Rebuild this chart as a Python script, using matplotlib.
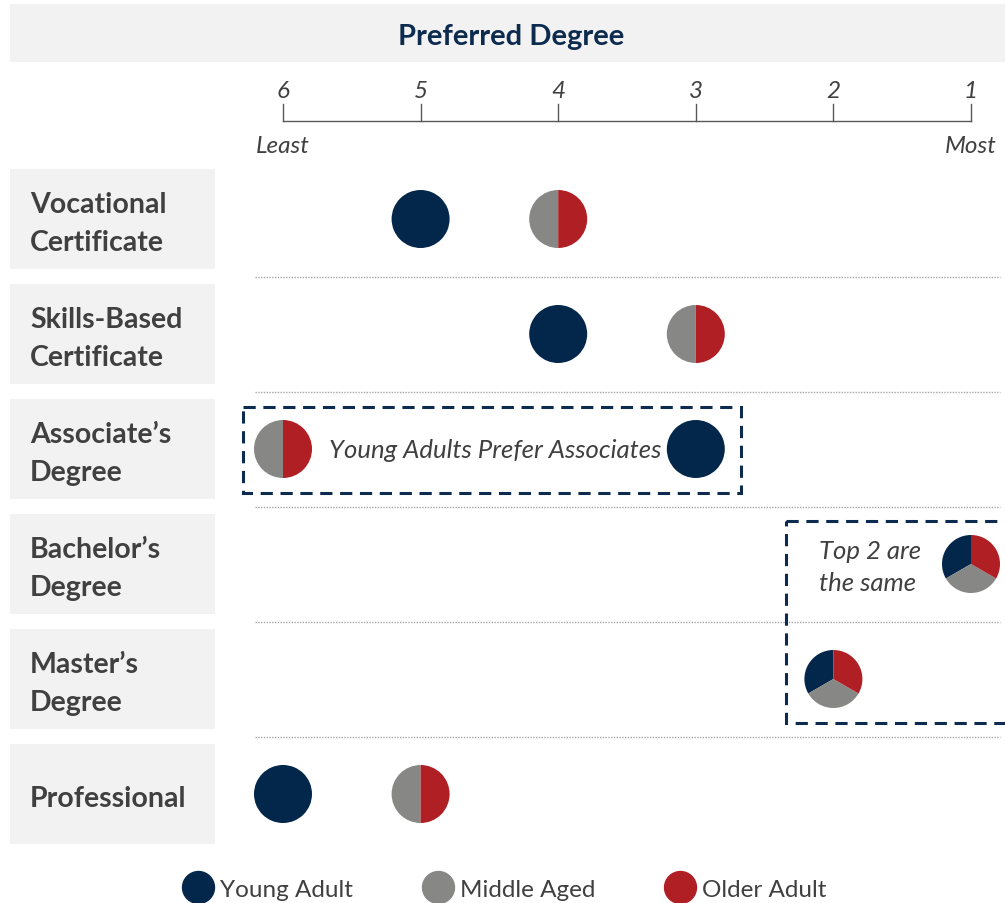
import numpy as np
import matplotlib
matplotlib.use("Agg")
import matplotlib.pyplot as plt
from matplotlib.patches import Wedge, Rectangle
from matplotlib.lines import Line2D
from matplotlib.transforms import ScaledTranslation

# data
categories = ["Vocational\nCertificate", "Skills-Based\nCertificate", "Associate\u2019s\nDegree",
              "Bachelor\u2019s\nDegree", "Master\u2019s\nDegree", "Professional"]
young_rank = [5, 4, 3, 1, 2, 6]
middle_rank = [4, 3, 6, 1, 2, 5]
older_rank = [4, 3, 6, 1, 2, 5]
rank_ticks = [6, 5, 4, 3, 2, 1]
groups = ["Young Adult", "Middle Aged", "Older Adult"]

colors = ["#03274b", "#878886", "#b01f24"]
navy = "#0c2b4e"
text_gray = "#404040"

plt.rcParams['font.family'] = ['Lato', 'DejaVu Sans']

W, H = 1005, 904
fig = plt.figure(figsize=(W / 100, H / 100), dpi=100)

# layout in pixels: rank 6 -> x 283, rank 1 -> x 971, row 0 -> y 220, row step 115
x6, x1 = 283, 971
step_x = (x1 - x6) / 5
y0, step_y = 220, 115
ax = fig.add_axes([0, 0, 1, 1])
ax.set_xlim(6 + x6 / step_x, 6 - (W - x6) / step_x)
ax.set_ylim((H - y0) / step_y, -y0 / step_y)
ax.axis("off")


def fx(px):
    return px / W


def fy(py):
    return 1 - py / H


tf = fig.transFigure

# title band
fig.patches.append(Rectangle((fx(10), fy(63)), fx(995), 58 / H, transform=tf,
                             facecolor="#f2f2f2", edgecolor="none", zorder=0))
fig.text(fx(511), fy(37), "Preferred Degree", ha="center", va="center",
         fontsize=21, fontweight="bold", color=navy)

# rank axis
ax.plot([rank_ticks[0], rank_ticks[-1]], [-0.85, -0.85], color="#595959", lw=1, clip_on=False)
for r in rank_ticks:
    ax.plot([r, r], [-0.85, -1.0], color="#595959", lw=1)
    ax.text(r, -1.12, str(r), ha="center", va="center", fontsize=17.5,
            style="italic", color=text_gray)
ax.text(rank_ticks[0], -0.64, "Least", ha="center", va="center", fontsize=17.5,
        style="italic", color=text_gray)
ax.text(rank_ticks[-1], -0.64, "Most", ha="center", va="center", fontsize=17.5,
        style="italic", color=text_gray)

# row label boxes and separators
for i, cat in enumerate(categories):
    yc = y0 + i * step_y
    fig.patches.append(Rectangle((fx(10), fy(yc + 50)), 205 / W, 100 / H, transform=tf,
                                 facecolor="#f2f2f2", edgecolor="none", zorder=0))
    fig.text(fx(30), fy(yc + 4), cat, ha="left", va="center", fontsize=20.5,
             fontweight="bold", color=text_gray, linespacing=1.55)
    if i < len(categories) - 1:
        ax.plot([6 + (x6 - 255) / step_x, 6 - (1000 - x6) / step_x], [i + 0.505, i + 0.505],
                color="#a6a6a6", lw=1, linestyle=(0, (1, 1)))

# pies
r_in = 0.29
for i in range(len(categories)):
    ranks = [young_rank[i], middle_rank[i], older_rank[i]]
    for rk in sorted(set(ranks)):
        members = [g for g in range(3) if ranks[g] == rk]
        share = 360 / len(members)
        trans = fig.dpi_scale_trans + ScaledTranslation(rk, i, ax.transData)
        for k, g in enumerate(members):
            t1 = 90 + k * share
            ax.add_patch(Wedge((0, 0), r_in, t1, t1 + share, transform=trans,
                               facecolor=colors[g], edgecolor="none", zorder=3))

# callout boxes
ax.add_patch(Rectangle((6.29, 1.635), 2.67 - 6.29, 2.383 - 1.635, fill=False,
                       edgecolor=navy, lw=2.2, linestyle=(0, (4, 2.5)), zorder=2))
ax.text(4.46, 2.0, "Young Adults Prefer Associates", ha="center", va="center",
        fontsize=18.5, style="italic", color=text_gray)
ax.add_patch(Rectangle((2.345, 2.626), 0.753 - 2.345 - 0.2, 4.383 - 2.626, fill=False,
                       edgecolor=navy, lw=2.2, linestyle=(0, (4, 2.5)), zorder=2,
                       clip_on=True))
ax.text(2.105, 3.02, "Top 2 are\nthe same", ha="left", va="center", fontsize=18.5,
        style="italic", color=text_gray, linespacing=1.5)

# legend
handles = [Line2D([], [], marker="o", linestyle="none", markersize=23,
                  markerfacecolor=c, markeredgecolor=c) for c in colors]
fig.legend(handles, groups, loc="center", bbox_to_anchor=(fx(505), fy(890)), ncol=3,
           frameon=False, fontsize=17.5, labelcolor=text_gray, handletextpad=0.3,
           columnspacing=2.9, handlelength=1.2)

fig.savefig("out.png", dpi=100)
